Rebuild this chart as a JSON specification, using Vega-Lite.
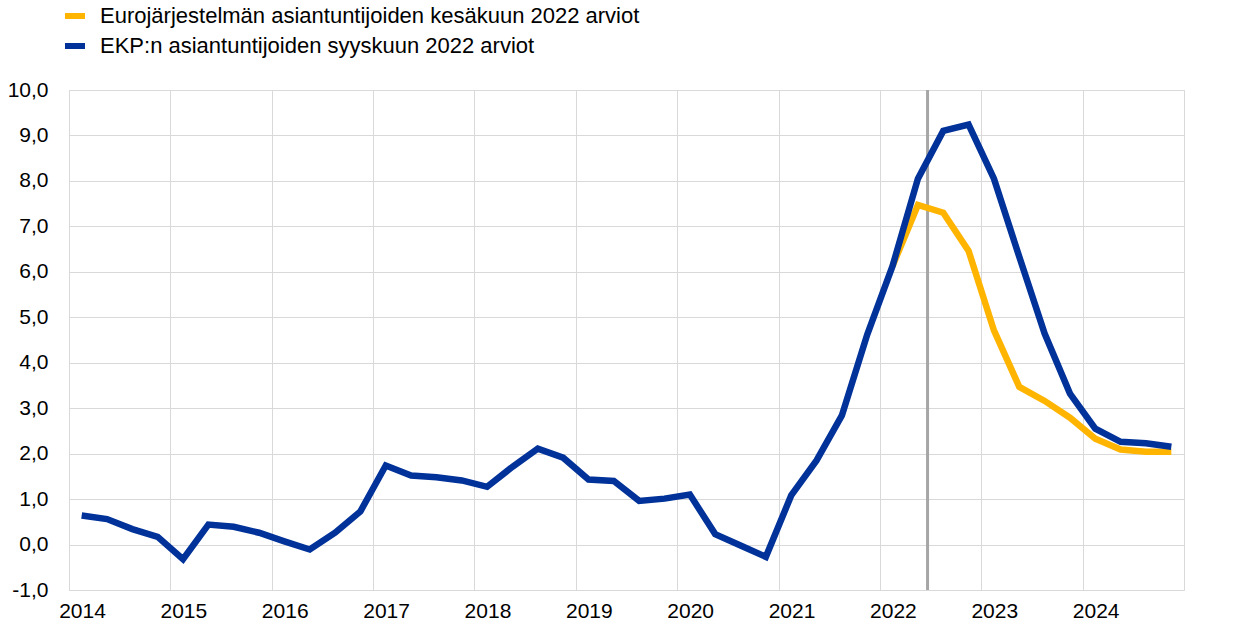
{
  "$schema": "https://vega.github.io/schema/vega-lite/v6.json",
  "width": 1115,
  "height": 500,
  "autosize": "none",
  "padding": {"left": 69, "top": 90, "right": 56, "bottom": 53},
  "background": "white",
  "config": {
    "font": "Liberation Sans",
    "view": {"stroke": "#d9d9d9", "strokeWidth": 1},
    "axis": {"labelFont": "Liberation Sans", "labelFontSize": 21, "labelColor": "#000000", "gridColor": "#d9d9d9", "gridWidth": 1, "domain": false, "ticks": false, "title": null}
  },
  "datasets": {
    "series": [
      {"t": 2014.125, "s": "EKP:n asiantuntijoiden syyskuun 2022 arviot", "v": 0.64},
      {"t": 2014.375, "s": "EKP:n asiantuntijoiden syyskuun 2022 arviot", "v": 0.56},
      {"t": 2014.625, "s": "EKP:n asiantuntijoiden syyskuun 2022 arviot", "v": 0.34},
      {"t": 2014.875, "s": "EKP:n asiantuntijoiden syyskuun 2022 arviot", "v": 0.17},
      {"t": 2015.125, "s": "EKP:n asiantuntijoiden syyskuun 2022 arviot", "v": -0.32},
      {"t": 2015.375, "s": "EKP:n asiantuntijoiden syyskuun 2022 arviot", "v": 0.44},
      {"t": 2015.625, "s": "EKP:n asiantuntijoiden syyskuun 2022 arviot", "v": 0.39},
      {"t": 2015.875, "s": "EKP:n asiantuntijoiden syyskuun 2022 arviot", "v": 0.26},
      {"t": 2016.125, "s": "EKP:n asiantuntijoiden syyskuun 2022 arviot", "v": 0.07},
      {"t": 2016.375, "s": "EKP:n asiantuntijoiden syyskuun 2022 arviot", "v": -0.11},
      {"t": 2016.625, "s": "EKP:n asiantuntijoiden syyskuun 2022 arviot", "v": 0.26},
      {"t": 2016.875, "s": "EKP:n asiantuntijoiden syyskuun 2022 arviot", "v": 0.73},
      {"t": 2017.125, "s": "EKP:n asiantuntijoiden syyskuun 2022 arviot", "v": 1.74},
      {"t": 2017.375, "s": "EKP:n asiantuntijoiden syyskuun 2022 arviot", "v": 1.52},
      {"t": 2017.625, "s": "EKP:n asiantuntijoiden syyskuun 2022 arviot", "v": 1.48},
      {"t": 2017.875, "s": "EKP:n asiantuntijoiden syyskuun 2022 arviot", "v": 1.41},
      {"t": 2018.125, "s": "EKP:n asiantuntijoiden syyskuun 2022 arviot", "v": 1.27},
      {"t": 2018.375, "s": "EKP:n asiantuntijoiden syyskuun 2022 arviot", "v": 1.71},
      {"t": 2018.625, "s": "EKP:n asiantuntijoiden syyskuun 2022 arviot", "v": 2.11},
      {"t": 2018.875, "s": "EKP:n asiantuntijoiden syyskuun 2022 arviot", "v": 1.91},
      {"t": 2019.125, "s": "EKP:n asiantuntijoiden syyskuun 2022 arviot", "v": 1.43},
      {"t": 2019.375, "s": "EKP:n asiantuntijoiden syyskuun 2022 arviot", "v": 1.40},
      {"t": 2019.625, "s": "EKP:n asiantuntijoiden syyskuun 2022 arviot", "v": 0.96},
      {"t": 2019.875, "s": "EKP:n asiantuntijoiden syyskuun 2022 arviot", "v": 1.01},
      {"t": 2020.125, "s": "EKP:n asiantuntijoiden syyskuun 2022 arviot", "v": 1.10},
      {"t": 2020.375, "s": "EKP:n asiantuntijoiden syyskuun 2022 arviot", "v": 0.23},
      {"t": 2020.625, "s": "EKP:n asiantuntijoiden syyskuun 2022 arviot", "v": -0.02},
      {"t": 2020.875, "s": "EKP:n asiantuntijoiden syyskuun 2022 arviot", "v": -0.27},
      {"t": 2021.125, "s": "EKP:n asiantuntijoiden syyskuun 2022 arviot", "v": 1.08},
      {"t": 2021.375, "s": "EKP:n asiantuntijoiden syyskuun 2022 arviot", "v": 1.85},
      {"t": 2021.625, "s": "EKP:n asiantuntijoiden syyskuun 2022 arviot", "v": 2.84},
      {"t": 2021.875, "s": "EKP:n asiantuntijoiden syyskuun 2022 arviot", "v": 4.62},
      {"t": 2022.125, "s": "EKP:n asiantuntijoiden syyskuun 2022 arviot", "v": 6.13},
      {"t": 2022.375, "s": "EKP:n asiantuntijoiden syyskuun 2022 arviot", "v": 8.05},
      {"t": 2022.625, "s": "EKP:n asiantuntijoiden syyskuun 2022 arviot", "v": 9.10},
      {"t": 2022.875, "s": "EKP:n asiantuntijoiden syyskuun 2022 arviot", "v": 9.24},
      {"t": 2023.125, "s": "EKP:n asiantuntijoiden syyskuun 2022 arviot", "v": 8.05},
      {"t": 2023.375, "s": "EKP:n asiantuntijoiden syyskuun 2022 arviot", "v": 6.33},
      {"t": 2023.625, "s": "EKP:n asiantuntijoiden syyskuun 2022 arviot", "v": 4.64},
      {"t": 2023.875, "s": "EKP:n asiantuntijoiden syyskuun 2022 arviot", "v": 3.32},
      {"t": 2024.125, "s": "EKP:n asiantuntijoiden syyskuun 2022 arviot", "v": 2.55},
      {"t": 2024.375, "s": "EKP:n asiantuntijoiden syyskuun 2022 arviot", "v": 2.26},
      {"t": 2024.625, "s": "EKP:n asiantuntijoiden syyskuun 2022 arviot", "v": 2.23},
      {"t": 2024.875, "s": "EKP:n asiantuntijoiden syyskuun 2022 arviot", "v": 2.15},
      {"t": 2022.125, "s": "Eurojärjestelmän asiantuntijoiden kesäkuun 2022 arviot", "v": 6.13},
      {"t": 2022.375, "s": "Eurojärjestelmän asiantuntijoiden kesäkuun 2022 arviot", "v": 7.47},
      {"t": 2022.625, "s": "Eurojärjestelmän asiantuntijoiden kesäkuun 2022 arviot", "v": 7.30},
      {"t": 2022.875, "s": "Eurojärjestelmän asiantuntijoiden kesäkuun 2022 arviot", "v": 6.46},
      {"t": 2023.125, "s": "Eurojärjestelmän asiantuntijoiden kesäkuun 2022 arviot", "v": 4.71},
      {"t": 2023.375, "s": "Eurojärjestelmän asiantuntijoiden kesäkuun 2022 arviot", "v": 3.47},
      {"t": 2023.625, "s": "Eurojärjestelmän asiantuntijoiden kesäkuun 2022 arviot", "v": 3.16},
      {"t": 2023.875, "s": "Eurojärjestelmän asiantuntijoiden kesäkuun 2022 arviot", "v": 2.79},
      {"t": 2024.125, "s": "Eurojärjestelmän asiantuntijoiden kesäkuun 2022 arviot", "v": 2.33},
      {"t": 2024.375, "s": "Eurojärjestelmän asiantuntijoiden kesäkuun 2022 arviot", "v": 2.09},
      {"t": 2024.625, "s": "Eurojärjestelmän asiantuntijoiden kesäkuun 2022 arviot", "v": 2.04},
      {"t": 2024.875, "s": "Eurojärjestelmän asiantuntijoiden kesäkuun 2022 arviot", "v": 2.04}
    ],
    "marker": [{"t": 2022.47}]
  },
  "layer": [
    {
      "data": {"name": "marker"},
      "mark": {"type": "rule", "color": "#a6a6a6", "strokeWidth": 3},
      "encoding": {
        "x": {"field": "t", "type": "quantitative", "scale": {"domain": [2014, 2025], "nice": false, "zero": false},
          "axis": {"values": [2014, 2015, 2016, 2017, 2018, 2019, 2020, 2021, 2022, 2023, 2024], "labelOffset": 13, "labelPadding": 10, "labelExpr": "format(datum.value, 'd')", "labelFlush": false, "labelOverlap": false}}
      }
    },
    {
      "data": {"name": "series"},
      "transform": [{"filter": "datum.s == 'Eurojärjestelmän asiantuntijoiden kesäkuun 2022 arviot'"}],
      "mark": {"type": "line", "strokeWidth": 6.5, "strokeJoin": "miter"},
      "encoding": {
        "x": {"field": "t", "type": "quantitative"},
        "y": {"field": "v", "type": "quantitative"},
        "color": {"field": "s", "type": "nominal"}
      }
    },
    {
      "data": {"name": "series"},
      "transform": [{"filter": "datum.s == 'EKP:n asiantuntijoiden syyskuun 2022 arviot'"}],
      "mark": {"type": "line", "strokeWidth": 6.5, "strokeJoin": "miter"},
      "encoding": {
        "x": {"field": "t", "type": "quantitative"},
        "y": {"field": "v", "type": "quantitative",
          "scale": {"domain": [-1, 10], "nice": false, "zero": false},
          "axis": {"values": [-1, 0, 1, 2, 3, 4, 5, 6, 7, 8, 9, 10], "labelPadding": 21, "labelExpr": "replace(replace(format(datum.value, '.1f'), '.', ','), '\u2212', '-')"}},
        "color": {"field": "s", "type": "nominal",
          "scale": {"domain": ["Eurojärjestelmän asiantuntijoiden kesäkuun 2022 arviot", "EKP:n asiantuntijoiden syyskuun 2022 arviot"], "range": ["#ffb400", "#003299"]},
          "legend": {"orient": "none", "legendX": -7, "legendY": -87, "title": null, "symbolType": "stroke", "symbolSize": 400, "symbolStrokeWidth": 6, "labelFont": "Liberation Sans", "labelFontSize": 22, "labelColor": "#000000", "labelOffset": 12, "rowPadding": 5, "padding": 0, "labelLimit": 800}}
      }
    }
  ]
}
